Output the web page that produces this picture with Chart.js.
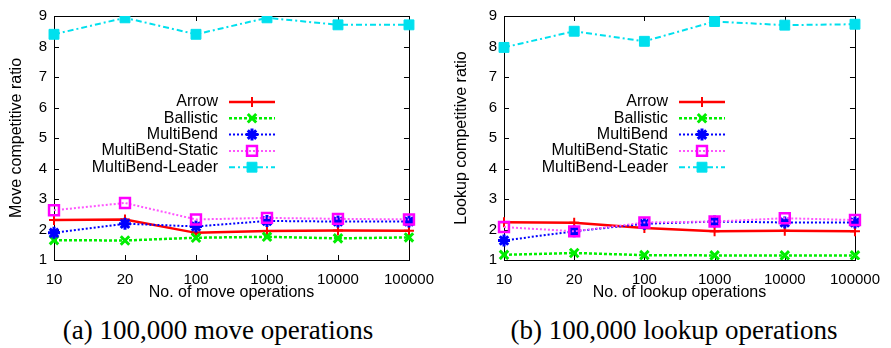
<!DOCTYPE html>
<html>
<head>
<meta charset="utf-8">
<script src="https://cdn.jsdelivr.net/npm/chart.js@4.4.0/dist/chart.umd.min.js"></script>
<style>
  body { margin: 0; background: #fff; width: 891px; height: 348px; position: relative; overflow: hidden; }
  canvas { position: absolute; top: 0; }
  #moveChart { left: 0; }
  #lookupChart { left: 445px; }
  .caption {
    position: absolute; top: 317px; transform: translateX(-50%);
    font-family: "Liberation Serif", "Times New Roman", serif; font-size: 27px;
    line-height: 1; white-space: nowrap; color: #000;
  }
</style>
</head>
<body>
<canvas id="moveChart" width="445" height="302"></canvas>
<canvas id="lookupChart" width="446" height="302"></canvas>
<div class="caption" style="left:218px">(a) 100,000 move operations</div>
<div class="caption" style="left:674px">(b) 100,000 lookup operations</div>

<script>
// x categories (number of operations)
const opCounts = ['10', '20', '100', '1000', '10000', '100000'];
const seriesNames = ['Arrow', 'Ballistic', 'MultiBend', 'MultiBend-Static', 'MultiBend-Leader'];

// (a) move competitive ratio
const moveArrow     = [2.31, 2.33, 1.89, 1.95, 1.97, 1.96];
const moveBallistic = [1.65, 1.64, 1.73, 1.76, 1.71, 1.74];
const moveMultiBend = [1.89, 2.19, 2.10, 2.28, 2.26, 2.26];
const moveStatic    = [2.63, 2.87, 2.33, 2.38, 2.35, 2.33];
const moveLeader    = [8.40, 8.94, 8.40, 8.94, 8.71, 8.71];

// (b) lookup competitive ratio
const lookupArrow     = [2.24, 2.22, 2.05, 1.94, 1.96, 1.94];
const lookupBallistic = [1.17, 1.23, 1.16, 1.15, 1.15, 1.15];
const lookupMultiBend = [1.64, 1.94, 2.19, 2.26, 2.23, 2.23];
const lookupStatic    = [2.08, 1.94, 2.23, 2.26, 2.37, 2.31];
const lookupLeader    = [7.97, 8.50, 8.17, 8.82, 8.70, 8.73];

// gnuplot-ish line styles, one per series
const seriesStyles = [
  { color: '#ff0000', width: 2.5, dash: [],           point: 'cross',    radius: 5, pw: 2,   fill: '#ff0000' },
  { color: '#00ee00', width: 2.5, dash: [3, 2],       point: 'crossRot', radius: 6, pw: 3,   fill: '#00ee00' },
  { color: '#0000ff', width: 2,   dash: [2, 2],       point: 'star',     radius: 6, pw: 3,   fill: '#0000ff' },
  { color: '#ff55ff', width: 2,   dash: [2, 2],       point: 'rect',     radius: 7, pw: 2.5, fill: 'rgba(0,0,0,0)', pointColor: '#ff00ff' },
  { color: '#00e0ee', width: 2,   dash: [6, 3, 2, 3], point: 'rect',     radius: 7, pw: 1,   fill: '#00e0ee' }
];

function buildDatasets(seriesList) {
  return seriesList.map((values, i) => {
    const s = seriesStyles[i];
    return {
      label: seriesNames[i],
      data: values,
      borderColor: s.color,
      borderWidth: s.width,
      borderDash: s.dash,
      pointStyle: s.point,
      pointRadius: s.radius,
      pointBorderWidth: s.pw,
      pointBorderColor: s.pointColor || s.color,
      pointBackgroundColor: s.fill,
      tension: 0,
      fill: false,
      order: 4 - i
    };
  });
}

const FONT = '"Liberation Sans", Arial, sans-serif';

// box around the plot with inward ticks, like gnuplot
const framePlugin = {
  id: 'frame',
  beforeDatasetsDraw(chart) {
    const { ctx, chartArea: a, scales } = chart;
    ctx.save();
    ctx.strokeStyle = '#000';
    ctx.lineWidth = 1;
    ctx.strokeRect(Math.round(a.left) + 0.5, Math.round(a.top) + 0.5,
      Math.round(a.right - a.left), Math.round(a.bottom - a.top));
    ctx.beginPath();
    scales.y.ticks.forEach(t => {
      const y = Math.round(scales.y.getPixelForValue(t.value)) + 0.5;
      ctx.moveTo(a.left, y); ctx.lineTo(a.left + 5, y);
      ctx.moveTo(a.right, y); ctx.lineTo(a.right - 5, y);
    });
    opCounts.forEach((_, i) => {
      const x = Math.round(scales.x.getPixelForTick(i)) + 0.5;
      ctx.moveTo(x, a.bottom); ctx.lineTo(x, a.bottom - 5);
      ctx.moveTo(x, a.top); ctx.lineTo(x, a.top + 5);
    });
    ctx.stroke();
    ctx.restore();
  }
};

// legend inside the plot, text right aligned, sample to the right
const sideLegend = {
  id: 'sideLegend',
  afterDraw(chart, args, opts) {
    const ctx = chart.ctx;
    ctx.save();
    ctx.font = '16px ' + FONT;
    ctx.textAlign = 'right';
    ctx.textBaseline = 'middle';
    chart.data.datasets.forEach((ds, i) => {
      const y = opts.top + i * opts.step;
      ctx.fillStyle = '#000';
      ctx.fillText(ds.label, opts.textRight, y);
      const x0 = opts.textRight + 11, x1 = x0 + 46;
      ctx.strokeStyle = ds.borderColor;
      ctx.lineWidth = ds.borderWidth;
      ctx.setLineDash(ds.borderDash);
      ctx.beginPath(); ctx.moveTo(x0, y); ctx.lineTo(x1, y); ctx.stroke();
      ctx.setLineDash([]);
      ctx.strokeStyle = ds.pointBorderColor;
      ctx.fillStyle = ds.pointBackgroundColor;
      ctx.lineWidth = ds.pointBorderWidth;
      Chart.helpers.drawPoint(ctx, {
        pointStyle: ds.pointStyle, radius: ds.pointRadius,
        borderWidth: ds.pointBorderWidth, rotation: 0
      }, (x0 + x1) / 2, y);
    });
    ctx.restore();
  }
};

function makeChart(id, seriesList, yTitle, xTitle, yWidth, padRight, legendRight) {
  return new Chart(document.getElementById(id), {
    type: 'line',
    data: { labels: opCounts, datasets: buildDatasets(seriesList) },
    plugins: [framePlugin, sideLegend],
    options: {
      responsive: false,
      animation: false,
      devicePixelRatio: 1,
      layout: { padding: { top: 10, right: padRight, left: 0, bottom: 0 } },
      plugins: {
        legend: { display: false },
        tooltip: { enabled: false },
        sideLegend: { textRight: legendRight, top: 102, step: 16.3 }
      },
      scales: {
        x: {
          type: 'category',
          offset: false,
          grid: { display: false, drawTicks: false },
          border: { display: false },
          ticks: { color: '#000', font: { family: FONT, size: 15 }, padding: 11, maxRotation: 0, autoSkip: false },
          title: { display: true, text: xTitle, color: '#000', font: { family: FONT, size: 16 }, padding: 0 },
          afterFit(scale) { scale.height = 42; }
        },
        y: {
          min: 1, max: 9,
          grid: { display: false, drawTicks: false },
          border: { display: false },
          ticks: { stepSize: 1, color: '#000', font: { family: FONT, size: 15 }, padding: 7 },
          title: { display: true, text: yTitle, color: '#000', font: { family: FONT, size: 16 }, padding: 7 },
          afterFit(scale) { scale.width = yWidth; }
        }
      }
    }
  });
}

makeChart('moveChart',
  [moveArrow, moveBallistic, moveMultiBend, moveStatic, moveLeader],
  'Move competitive ratio', 'No. of move operations', 54, 32, 218);

makeChart('lookupChart',
  [lookupArrow, lookupBallistic, lookupMultiBend, lookupStatic, lookupLeader],
  'Lookup competitive ratio', 'No. of lookup operations', 59, 28, 223);
</script>
</body>
</html>
